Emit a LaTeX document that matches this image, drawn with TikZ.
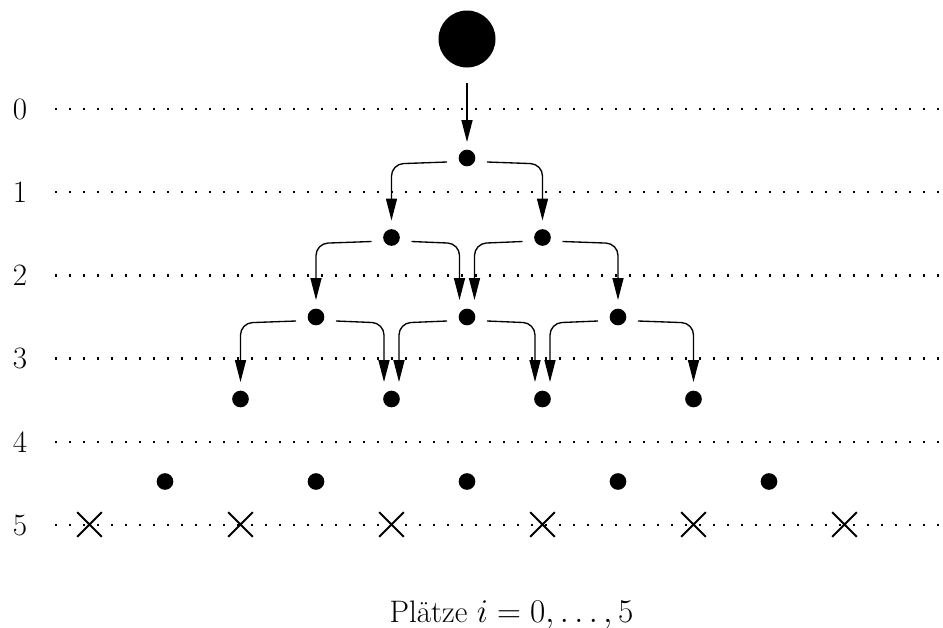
\documentclass[tikz,border=0pt]{standalone}
\usetikzlibrary{arrows.meta,calc,shapes.misc}
\begin{document}
\begin{tikzpicture}[x=0.75pt,y=-0.75pt,
  dot/.style={circle,fill=black,inner sep=0pt,minimum size=12.5pt},
  bigdot/.style={circle,fill=black,inner sep=0pt,minimum size=42.75pt},
  levelline/.style={line width=1.8pt,dash pattern=on 1.8pt off 8.7pt},
  conn/.style={line width=1pt,rounded corners=9pt,-{Triangle[length=16.5pt,width=8.3pt]}},
  lab/.style={font=\fontsize{23.3}{28}\selectfont,inner sep=0pt},
  crossmark/.style={cross out,draw,line width=1.5pt,minimum size=17pt,inner sep=0pt}]
\useasboundingbox (0,0) rectangle (943,628);
% level lines and labels
\foreach \i/\yy in {0/109,1/192.2,2/275.4,3/358.6,4/441.8,5/525}{
  \node[lab] (lab\i) at (20,\yy) {\i};
  \draw[levelline] (55,\yy) -- (943,\yy);
}
% top ball
\node[bigdot] (top) at (467,39) {};
% dots of levels 1..5
\node[dot] (n14) at (467,158) {};
\foreach \j in {3,5}{\node[dot] (n2\j) at ({165+75.5*\j},237.5) {};}
\foreach \j in {2,4,6}{\node[dot] (n3\j) at ({165+75.5*\j},317) {};}
\foreach \j in {1,3,5,7}{\node[dot] (n4\j) at ({165+75.5*\j},399) {};}
\foreach \j in {0,2,4,6,8}{\node[dot] (n5\j) at ({165+75.5*\j},481.5) {};}
% crosses
\foreach \m in {0,...,5}{\node[crossmark] (x\m) at ({89.5+151*\m},524.5) {};}
% arrows
\draw[conn] ($(top)+(0,44)$) -- ($(n14)+(0,-16)$);
\foreach \p/\c/\s/\dx in {
  n14/n23/-1/0, n14/n25/1/0,
  n23/n32/-1/0, n23/n34/1/-7.5, n25/n34/-1/7.5, n25/n36/1/0,
  n32/n41/-1/0, n32/n43/1/-7.5, n34/n43/-1/7.5, n34/n45/1/-7.5,
  n36/n45/-1/7.5, n36/n47/1/0}{
  \draw[conn] ($(\p)+(\s*20,4)$) -- ($(\c |- \p)+(\dx,6)$) -- ($(\c)+(\dx,-17)$);
}
% caption
\node[lab,anchor=base] (cap) at (511.5,622) {Plätze $i=0,\dots,5$};
\end{tikzpicture}
\end{document}
